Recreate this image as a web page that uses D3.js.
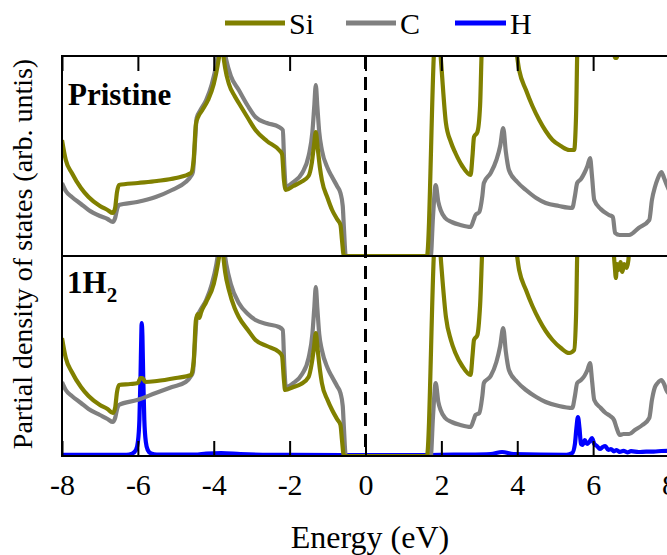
<!DOCTYPE html>
<html><head><meta charset="utf-8">
<script src="https://cdn.jsdelivr.net/npm/d3@7"></script>
<style>body{margin:0;background:#fff}svg{display:block}</style>
</head><body><svg id="c" width="667" height="555"></svg>
<script>
const FONT = "'Liberation Serif', 'Times New Roman', Times, 'DejaVu Serif', serif";
const xTicks = [-8,-6,-4,-2,0,2,4,6,8];
const seriesNames = ["Si","C","H"];
const seriesColors = ["#808000","#808080","#0000ff"];
const panelLabels = ["Pristine","1H2"];

const siPristine = [[-8,58],[-7.9,48],[-7.74,41.5],[-7.5,34],[-7.3,29.5],[-7,25],[-6.8,23],[-6.66,21.5],[-6.6,24],[-6.55,32],[-6.5,35.5],[-6,36.5],[-5.5,37.5],[-5,39],[-4.6,41.5],[-4.53,48],[-4.47,66],[-4.4,70],[-4.3,73],[-4.15,78],[-4.0,86],[-3.9,95],[-3.83,104],[-3.8,110],[-3.77,104],[-3.7,94],[-3.6,86],[-3.45,80],[-3.34,76.5],[-3.1,69],[-2.9,63],[-2.6,57.5],[-2.28,53],[-2.2,51],[-2.15,38],[-2.1,33],[-1.9,35],[-1.7,37],[-1.5,40],[-1.42,46],[-1.36,55],[-1.31,62],[-1.26,54],[-1.2,44],[-1.15,38],[-1.0,29],[-0.88,23],[-0.75,18.5],[-0.66,15.5],[-0.62,8],[-0.57,0],[1.62,0],[1.8,100],[1.85,120],[1.94,110],[2.0,95],[2.12,66.5],[2.25,57],[2.37,51.5],[2.55,45],[2.77,40.5],[2.82,50],[2.86,59.5],[2.95,62],[3.02,75],[3.08,110],[3.5,130],[3.92,110],[4.05,93],[4.23,83],[4.4,75],[4.58,68],[4.75,62.5],[4.93,58],[5.15,55],[5.37,53],[5.5,53],[5.55,70],[5.6,115],[6.0,130],[6.5,110],[6.58,99],[6.62,99],[6.7,110],[8,130]];
const cPristine = [[-8,36.5],[-7.9,32.5],[-7.74,29.5],[-7.5,26],[-7.3,23],[-7,20],[-6.8,18.5],[-6.66,17],[-6.6,19],[-6.54,24],[-6.5,25.5],[-6.02,27],[-5.53,29.5],[-5.1,33],[-4.74,37],[-4.6,40],[-4.55,42],[-4.5,55],[-4.45,69],[-4.35,73],[-4.2,78],[-4.05,86],[-3.93,96],[-3.85,106],[-3.8,112],[-3.75,106],[-3.67,98],[-3.55,90],[-3.34,83],[-3.1,75],[-2.9,69.5],[-2.6,66.5],[-2.28,64.5],[-2.18,63],[-2.14,45],[-2.1,34.5],[-1.9,37],[-1.67,41.5],[-1.5,50],[-1.4,62],[-1.35,75],[-1.31,85.5],[-1.27,75],[-1.22,62],[-1.15,53],[-1.0,44],[-0.88,39.5],[-0.75,35],[-0.66,31.5],[-0.6,25],[-0.57,14.5],[-0.52,0],[1.72,0],[1.78,20],[1.85,35.5],[1.92,27],[1.98,23],[2.1,19],[2.27,17],[2.5,15.5],[2.77,14.5],[2.85,18],[2.9,20.5],[3.0,22],[3.08,30],[3.12,36.5],[3.3,41.5],[3.45,48],[3.55,55],[3.63,64],[3.7,52],[3.78,43],[4.0,37],[4.23,33],[4.5,29],[4.75,26.5],[5.1,25],[5.45,24],[5.52,30],[5.58,36.5],[5.68,38.5],[5.77,41.5],[5.85,45],[5.92,49],[5.97,40],[6.03,28],[6.2,23.5],[6.42,20.5],[6.52,19.5],[6.58,11.5],[6.7,10.5],[6.95,10.5],[7.2,14],[7.48,18],[7.55,28],[7.63,34.5],[7.7,38.5],[7.8,42],[7.87,39],[7.93,36],[8,33]];
const siH2 = [[-8,59],[-7.9,49],[-7.74,42],[-7.5,34.5],[-7.3,30],[-7,25.5],[-6.8,23.5],[-6.66,21.5],[-6.6,24],[-6.55,32],[-6.5,35.5],[-6.2,36],[-6.0,36.5],[-5.93,39],[-5.88,39],[-5.8,37],[-5.5,37.5],[-5,39],[-4.6,40.5],[-4.53,47],[-4.47,68],[-4.42,71],[-4.38,69],[-4.33,72],[-4.2,77],[-4.0,86],[-3.9,95],[-3.83,104],[-3.8,110],[-3.77,104],[-3.7,92],[-3.6,83],[-3.45,74],[-3.34,69.5],[-3.1,63],[-2.9,58],[-2.6,55],[-2.28,52],[-2.2,50],[-2.15,38],[-2.12,33],[-1.9,34.5],[-1.7,36],[-1.5,39.5],[-1.42,46],[-1.36,54],[-1.31,61.5],[-1.26,53],[-1.2,43],[-1.15,36.5],[-1.0,28],[-0.88,23],[-0.75,18.5],[-0.66,15.5],[-0.62,8],[-0.57,0],[1.62,0],[1.8,100],[1.85,120],[1.94,110],[2.0,95],[2.12,69.5],[2.25,58],[2.37,51.5],[2.55,45],[2.77,40.5],[2.82,50],[2.86,58],[2.95,60.5],[3.02,75],[3.1,110],[3.5,130],[3.92,110],[4.05,93],[4.23,83],[4.4,75],[4.58,68],[4.75,62.5],[4.93,58],[5.15,54],[5.37,51.5],[5.5,53],[5.55,70],[5.6,115],[6.0,130],[6.5,110],[6.57,95],[6.6,89],[6.63,96],[6.67,93],[6.72,97],[6.77,92],[6.82,96],[6.88,94],[6.93,98],[6.97,110],[8,130]];
const cH2 = [[-8,37],[-7.9,33],[-7.74,30],[-7.5,26.5],[-7.3,23.5],[-7,20.5],[-6.8,18.5],[-6.66,17],[-6.6,19],[-6.54,24],[-6.5,25.5],[-6.02,28],[-5.53,31.5],[-5.1,34.5],[-4.74,37],[-4.6,40],[-4.55,42],[-4.5,55],[-4.45,69],[-4.35,73],[-4.2,78],[-4.05,86],[-3.93,96],[-3.85,106],[-3.8,112],[-3.75,106],[-3.67,96],[-3.55,86],[-3.34,76.5],[-3.1,71],[-2.9,68],[-2.6,66],[-2.28,64.5],[-2.18,63],[-2.14,45],[-2.1,34.5],[-1.9,36.5],[-1.67,41],[-1.5,49],[-1.4,61],[-1.35,74],[-1.31,84.5],[-1.27,74],[-1.22,61],[-1.15,53],[-1.0,44],[-0.88,39.5],[-0.75,35],[-0.66,31.5],[-0.6,25],[-0.57,14.5],[-0.52,0],[1.72,0],[1.78,20],[1.85,36.5],[1.92,27],[1.98,23],[2.1,19],[2.27,17],[2.5,15.5],[2.77,14.5],[2.85,18],[2.9,20.5],[3.0,21.5],[3.08,30],[3.12,36.5],[3.3,40],[3.45,47],[3.55,55],[3.63,64],[3.7,52],[3.78,43],[4.0,37],[4.23,33],[4.5,29.5],[4.75,27],[5.1,25],[5.45,24],[5.52,30],[5.58,36.5],[5.68,38],[5.77,40],[5.85,43],[5.92,46.5],[5.97,38],[6.03,28],[6.2,24],[6.33,21.5],[6.45,20],[6.55,18],[6.62,14],[6.7,10.5],[6.8,11],[6.95,11],[7.1,13],[7.3,15.5],[7.48,19],[7.55,28],[7.63,34.5],[7.7,36.5],[7.8,38],[7.87,36],[7.93,33],[8,31]];
const hH2 = [[-8,0.6],[-6.3,0.6],[-6.15,1.2],[-6.05,3],[-6.0,7],[-5.96,18],[-5.93,40],[-5.91,60],[-5.9,66.5],[-5.88,60],[-5.86,40],[-5.83,18],[-5.79,7],[-5.74,3],[-5.65,1.2],[-5.5,0.7],[-4.5,0.7],[-4.2,1.2],[-3.8,1.5],[-3.3,1],[-2.5,0.6],[-0.6,0.5],[1.7,0.5],[2.5,0.7],[3.3,1],[3.6,2],[3.9,1],[5.3,0.6],[5.45,1.5],[5.52,6],[5.56,14],[5.6,19.5],[5.64,14],[5.68,6],[5.72,5.5],[5.78,8],[5.84,6],[5.9,7],[5.97,9],[6.03,6],[6.1,5],[6.18,3.5],[6.25,4.5],[6.32,5],[6.4,3],[6.47,3.5],[6.55,2.3],[6.62,3],[6.7,2],[6.8,2.6],[6.9,1.8],[7.0,2.4],[7.2,2],[7.4,2.2],[7.6,2.2],[7.8,2.5],[8,2.6]];

const svg = d3.select("#c");
const x = d3.scaleLinear().domain([-8,8]).range([62,669]);
const panels = [
  {top:56, bottom:256, series:[null, cPristine, siPristine]},
  {top:256, bottom:456, series:[hH2, cH2, siH2]}
];
const colorOrder = [seriesColors[2], seriesColors[1], seriesColors[0]];
panels.forEach((p,i)=>{
  const y = d3.scaleLinear().domain([0,100]).range([p.bottom,p.top]);
  const cid = "clip"+i;
  svg.append("clipPath").attr("id",cid).append("rect")
    .attr("x",x(-8)).attr("y",p.top).attr("width",x(8)-x(-8)).attr("height",p.bottom-p.top);
  const g = svg.append("g").attr("clip-path",`url(#${cid})`);
  const line = d3.line().x(d=>x(d[0])).y(d=>y(d[1])).curve(d3.curveMonotoneX);
  p.series.forEach((s,k)=>{
    if(!s) return;
    g.append("path").datum(s).attr("d",line).attr("fill","none")
      .attr("stroke",colorOrder[k]).attr("stroke-width",4.2).attr("stroke-linejoin","round");
  });
  svg.append("rect").attr("x",x(-8)).attr("y",p.top).attr("width",x(8)-x(-8)).attr("height",p.bottom-p.top)
    .attr("fill","none").attr("stroke","#000").attr("stroke-width",2);
});
svg.append("line").attr("x1",x(0)).attr("x2",x(0)).attr("y1",56).attr("y2",456)
  .attr("stroke","#000").attr("stroke-width",3).attr("stroke-dasharray","13,8");
const topAx = d3.axisTop(x).tickValues(xTicks).tickSizeInner(-15).tickSizeOuter(0).tickFormat("");
const ga = svg.append("g").attr("transform","translate(0,56)").call(topAx);
ga.select(".domain").remove();
ga.selectAll("line").attr("stroke","#000").attr("stroke-width",2);
const botAx = d3.axisBottom(x).tickValues(xTicks).tickSizeInner(-15).tickSizeOuter(0).tickPadding(18).tickFormat(d=>d);
const gb = svg.append("g").attr("transform","translate(0,456)").call(botAx);
gb.attr("font-family",FONT).attr("font-size",30);
gb.select(".domain").remove();
gb.selectAll("line").attr("stroke","#000").attr("stroke-width",2);
gb.selectAll("text").attr("fill","#000");
const txt = (xx,yy,s)=>svg.append("text").attr("x",xx).attr("y",yy).attr("font-family",FONT).attr("font-size",s).attr("fill","#000");
txt(68,105,31).attr("font-weight","bold").text(panelLabels[0]);
const t2 = txt(67,293,31).attr("font-weight","bold");
t2.append("tspan").text("1H");
t2.append("tspan").attr("font-size",21).attr("dy",9).text("2");
txt(370,548,32).attr("text-anchor","middle").text("Energy (eV)");
svg.append("text").attr("transform","translate(32,254) rotate(-90)").attr("text-anchor","middle")
  .attr("font-family",FONT).attr("font-size",28).text("Partial density of states (arb. untis)");
const lx = [225,346,455];
const lw = [60,50,51];
seriesNames.forEach((n,i)=>{
  svg.append("line").attr("x1",lx[i]).attr("x2",lx[i]+lw[i]).attr("y1",23).attr("y2",23)
    .attr("stroke",seriesColors[i]).attr("stroke-width",5);
  txt(lx[i]+lw[i]+4,34,30).text(n);
});
</script></body></html>
